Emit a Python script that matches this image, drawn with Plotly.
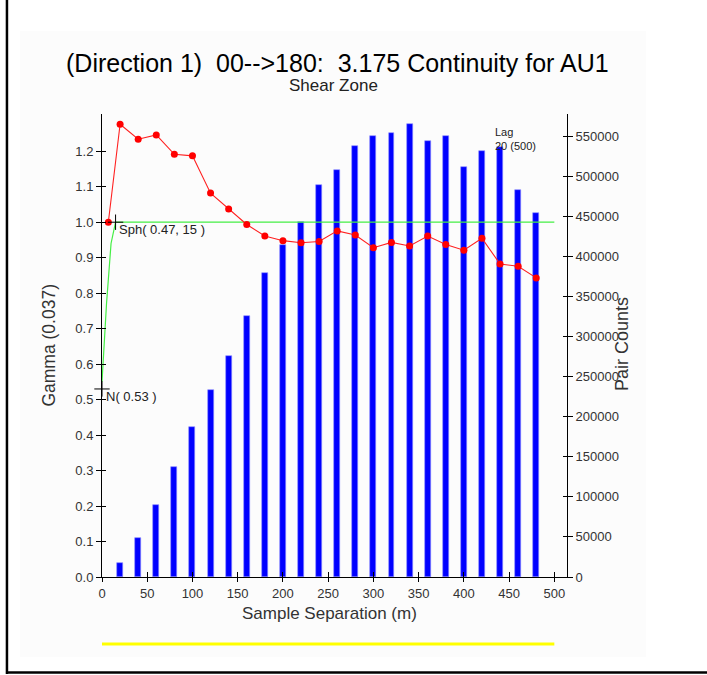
import plotly.graph_objects as go

# ---- data ----
lag_x = [7, 20, 40, 60, 80, 100, 120, 140, 160, 180, 200, 220, 240, 260, 280,
         300, 320, 340, 360, 380, 400, 420, 440, 460, 480]
gamma = [1.0, 1.276, 1.234, 1.246, 1.1915, 1.187, 1.082, 1.037, 0.9935, 0.961,
         0.948, 0.942, 0.9455, 0.9755, 0.964, 0.928, 0.943, 0.933, 0.961, 0.937,
         0.921, 0.955, 0.882, 0.876, 0.843]

bar_x = [20, 40, 60, 80, 100, 120, 140, 160, 180, 200, 220, 240, 260, 280, 300,
         320, 340, 360, 380, 400, 420, 440, 460, 480]
pair_counts = [17100, 48300, 89800, 136800, 186700, 233600, 275200, 325500,
               378800, 414000, 442400, 488900, 507600, 537200, 549600, 553400,
               564600, 544200, 549600, 511700, 530900, 536700, 482700, 454000]

model_x = [0, 5, 10, 15, 500]
model_y = [0.55, 0.77, 0.94, 1.0, 1.0]

sph_pt = (15, 1.0)
nug_pt = (0, 0.53)

x_ticks = [0, 50, 100, 150, 200, 250, 300, 350, 400, 450, 500]
gamma_ticks = [0.0, 0.1, 0.2, 0.3, 0.4, 0.5, 0.6, 0.7, 0.8, 0.9, 1.0, 1.1, 1.2]
count_ticks = [0, 50000, 100000, 150000, 200000, 250000, 300000, 350000,
               400000, 450000, 500000, 550000]

X_RANGE = [0, 514]
G_RANGE = [0, 1.305]
C_RANGE = [0, 577500]

FONT = "Liberation Sans, Arial, sans-serif"
TICKC = "#333333"

fig = go.Figure()

# bars (primary y, right side)
fig.add_trace(go.Bar(x=bar_x, y=pair_counts, width=6.6, marker=dict(color="#0000ff",
              line=dict(color="#8c8cff", width=0.6)), xaxis="x", yaxis="y",
              showlegend=False, hoverinfo="skip"))

# model (green) and experimental (red) on gamma axis
fig.add_trace(go.Scatter(x=model_x, y=model_y, mode="lines",
              line=dict(color="#44ee44", width=1.2), xaxis="x", yaxis="y2",
              showlegend=False))
fig.add_trace(go.Scatter(x=lag_x, y=gamma, mode="lines+markers",
              line=dict(color="#ff2020", width=1.1),
              marker=dict(color="#ff0000", size=7), xaxis="x", yaxis="y2",
              showlegend=False))
fig.add_trace(go.Scatter(x=[sph_pt[0], nug_pt[0]], y=[sph_pt[1], nug_pt[1]],
              mode="markers", marker=dict(symbol="cross-thin", size=11,
              line=dict(color="black", width=1)), xaxis="x", yaxis="y2",
              showlegend=False, cliponaxis=False))

# dummy traces for crossing-tick overlay axes
fig.add_trace(go.Scatter(x=[None], y=[None], xaxis="x2", yaxis="y3", showlegend=False))
fig.add_trace(go.Scatter(x=[None], y=[None], xaxis="x2", yaxis="y4", showlegend=False))

axis_common = dict(showline=True, linecolor="black", linewidth=1, showgrid=False,
                   zeroline=False, tickcolor="black", ticklen=5,
                   tickfont=dict(family=FONT, size=13, color=TICKC))

fig.update_layout(
    width=707, height=675,
    paper_bgcolor="white", plot_bgcolor="rgba(0,0,0,0)",
    margin=dict(l=102, r=140, t=114, b=98),
    bargap=0,
    xaxis=dict(range=X_RANGE, tickvals=x_ticks, ticks="outside", ticklen=4,
               anchor="y", **{k: v for k, v in axis_common.items() if k != "ticklen"}),
    yaxis=dict(range=C_RANGE, tickvals=count_ticks, tickformat="d", side="right",
               ticks="outside", anchor="x", **axis_common),
    yaxis2=dict(range=G_RANGE, tickvals=gamma_ticks, tickformat=".1f", side="left",
                overlaying="y", ticks="outside", anchor="x", **axis_common),
    xaxis2=dict(range=X_RANGE, tickvals=x_ticks, ticks="inside", ticklen=5,
                showticklabels=False, overlaying="x", anchor="y3", showline=False,
                showgrid=False, zeroline=False, tickcolor="black"),
    yaxis3=dict(range=C_RANGE, tickvals=count_ticks, ticks="inside", ticklen=4,
                showticklabels=False, overlaying="y", side="right", anchor="x2",
                showline=False, showgrid=False, zeroline=False, tickcolor="black"),
    yaxis4=dict(range=G_RANGE, tickvals=gamma_ticks, ticks="inside", ticklen=4,
                showticklabels=False, overlaying="y", side="left", anchor="x2",
                showline=False, showgrid=False, zeroline=False, tickcolor="black"),
)

# background panel, frame lines, yellow bar
fig.add_shape(type="rect", xref="paper", yref="paper", x0=-0.176, x1=1.170,
              y0=-0.1728, y1=1.179, fillcolor="#fcfcfc", line=dict(width=0),
              layer="below")
fig.add_shape(type="line", xref="paper", yref="paper", x0=-0.2044, x1=-0.2044,
              y0=-0.2095, y1=1.25, line=dict(color="black", width=2.5))
fig.add_shape(type="line", xref="paper", yref="paper", x0=-0.2065, x1=1.32,
              y0=-0.2063, y1=-0.2063, line=dict(color="black", width=2.5))
fig.add_shape(type="line", xref="x", yref="paper", x0=x_ticks[0], x1=x_ticks[-1],
              y0=-0.1447, y1=-0.1447, line=dict(color="#ffff00", width=3))

# texts
fig.add_annotation(text="(Direction 1)  00-->180:  3.175 Continuity for AU1",
                   xref="paper", yref="paper", x=0.5075, y=1.110, showarrow=False,
                   xanchor="center", yanchor="middle",
                   font=dict(family=FONT, size=25, color="black"))
fig.add_annotation(text="Shear Zone", xref="paper", yref="paper", x=0.497, y=1.0626,
                   showarrow=False, xanchor="center", yanchor="middle",
                   font=dict(family=FONT, size=17, color="#222222"))
fig.add_annotation(text="Gamma (0.037)", xref="paper", yref="paper", x=-0.116, y=0.50,
                   textangle=-90, showarrow=False, xanchor="center", yanchor="middle",
                   font=dict(family=FONT, size=17.5, color=TICKC))
fig.add_annotation(text="Pair Counts", xref="paper", yref="paper", x=1.118, y=0.503,
                   textangle=-90, showarrow=False, xanchor="center", yanchor="middle",
                   font=dict(family=FONT, size=18, color=TICKC))
fig.add_annotation(text="Sample Separation (m)", xref="paper", yref="paper", x=0.49,
                   y=-0.078, showarrow=False, xanchor="center", yanchor="middle",
                   font=dict(family=FONT, size=17, color=TICKC))
fig.add_annotation(text="Sph( 0.47, 15 )", xref="x", yref="y2", x=17, y=0.979,
                   showarrow=False, xanchor="left", yanchor="middle",
                   font=dict(family=FONT, size=13, color="#222222"))
fig.add_annotation(text="N( 0.53 )", xref="x", yref="y2", x=2.5, y=0.508,
                   showarrow=False, xanchor="left", yanchor="middle",
                   font=dict(family=FONT, size=13, color="#222222"))
fig.add_annotation(text="Lag<br>20 (500)", xref="x", yref="y2", x=432, y=1.234,
                   showarrow=False, xanchor="left", yanchor="middle", align="left",
                   font=dict(family=FONT, size=11, color="#222222"))

fig.write_html("out.html", config={"displayModeBar": False},
               post_script="document.body.style.margin='0';document.body.style.padding='0';")
